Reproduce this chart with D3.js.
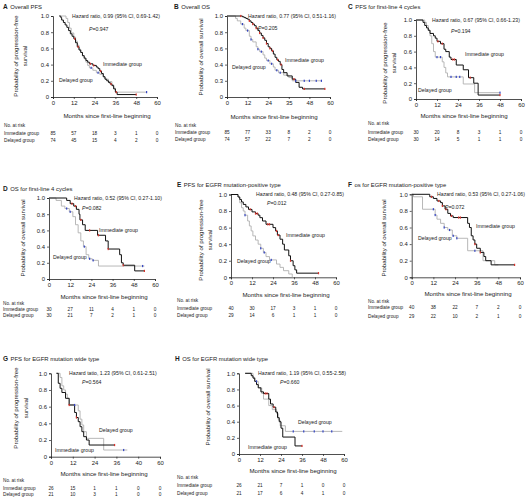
<!DOCTYPE html>
<html><head><meta charset="utf-8">
<script src="https://cdn.jsdelivr.net/npm/d3@7"></script>
<style>
body{margin:0;background:#fff}
svg{display:block}
text{font-family:'Liberation Sans',Arial,sans-serif;fill:#1a1a1a}
</style>
</head><body>
<svg id="chart" width="527" height="500"></svg>
<script>
// ---------------- DATA ----------------
const monthTicks = [0, 12, 24, 36, 48, 60];
const survTicks = [0, 0.2, 0.4, 0.6, 0.8, 1.0];
const xLabelsStd = ["0", "12", "24", "36", "48", "60"];
const xLabelsB = ["0", "12", "24", "35", "48", "60"];
const xLabelsG = ["0", "12", "24", "36", "40", "60"];
const yLabelsStd = ["0", "0.2", "0.4", "0.6", "0.8", "1.0"];
const yLabelsB = ["0", "0.3", "0.4", "0.6", "0.8", "1.0"];

const panelLetters = ["A","B","C","D","E","F","G","H"];
const panelTitles = ["Overall PFS","Overall OS","PFS for first-line 4 cycles","OS for first-line 4 cycles",
  "PFS for EGFR mutation-positive type","os for EGFR mutation-positive type","PFS for EGFR mutation wide type","OS for EGFR mutation wide type"];
const hazardTexts = ["Hazard ratio, 0.99 (95% CI, 0.69-1.42)","Hazard ratio, 0.77 (95% CI, 0.51-1.16)",
  "Hazard ratio, 0.67 (95% CI, 0.66-1.23)","Hazard ratio, 0.52 (95% CI, 0.27-1.10)",
  "Hazard ratio, 0.48 (95% CI, 0.27-0.85)","Hazard ratio, 0.53 (95% CI, 0.27-1.06)",
  "Hazard tatio, 1.23 (95% CI, 0.61-2.51)","Hazard ratio, 1.19 (95% CI, 0.55-2.58)"];
const pTexts = ["P=0.947","P=0.205","P=0.194","P=0.082","P=0.012","P=0.072","P=0.564","P=0.660"];
const yTitlePFS = ["Probability of progression-free","survival"];
const yTitleOS = ["Probability of overall survival"];
const xTitle = "Months since first-line beginning";
const riskHeader = "No. at risk";
const immLabel = "Immediate group";
const delLabel = "Delayed group";
const immRowLabels = ["Immediate group","Immediate group","Immediate group","Immediate group","Immediate group","Immediate group","Immediat group","Immediate group"];

// Kaplan-Meier step curves: [month, survival from that month on]
const aImm = [[3.5,1],[4.5,0.98],[5,0.95],[6,0.92],[7,0.89],[8,0.86],[9,0.82],[10,0.78],[11,0.75],[12,0.72],[13,0.67],[14,0.62],[15,0.58],[16,0.55],[17,0.51],[18,0.48],[19,0.45],[20,0.43],[21,0.41],[23,0.39],[25,0.37],[26,0.35],[27,0.32],[28,0.29],[29,0.25],[30,0.22],[31,0.2],[32,0.18],[33,0.16],[34,0.14],[35,0.1],[36,0.06],[37,0.03],[48,0.03]];
const aDel = [[4.5,1],[7.5,0.97],[8.5,0.92],[9.5,0.85],[10.5,0.79],[12,0.74],[13,0.69],[14,0.64],[15,0.59],[16,0.55],[17,0.51],[18,0.47],[19,0.43],[20,0.39],[21,0.36],[23,0.33],[25,0.3],[27,0.28],[29,0.25],[30,0.22],[32,0.19],[34,0.15],[35,0.11],[36,0.06],[54,0.06]];
const bImm = [[0,1],[9,0.99],[10,0.98],[11,0.97],[12,0.96],[13,0.94],[14,0.92],[15,0.9],[16,0.88],[17,0.85],[18,0.82],[19,0.79],[20,0.76],[21,0.73],[22,0.7],[23,0.66],[24,0.62],[25,0.6],[26,0.57],[27,0.53],[28,0.49],[29,0.46],[30,0.44],[31,0.4],[32,0.34],[33,0.3],[35,0.26],[38,0.22],[40,0.18],[42,0.12],[44,0.1],[57,0.1]];
const bDel = [[0,1],[5,0.97],[6,0.94],[8,0.9],[10,0.85],[11,0.82],[13,0.75],[14,0.71],[15,0.68],[17,0.62],[18,0.59],[19,0.56],[21,0.52],[22,0.48],[23,0.45],[25,0.41],[27,0.37],[28,0.33],[30,0.3],[33,0.27],[36,0.24],[38,0.2],[55,0.2]];
const cImm = [[0,1],[4,0.97],[5,0.93],[6,0.9],[7,0.87],[8,0.83],[10,0.8],[11,0.77],[12,0.73],[14,0.7],[16,0.63],[17,0.6],[19,0.53],[20,0.5],[23,0.43],[27,0.37],[30,0.27],[33,0.2],[35.5,0.05],[48,0.05]];
const cDel = [[0,1],[5,0.97],[6,0.93],[7,0.87],[8,0.8],[9,0.7],[10,0.6],[11,0.53],[15,0.47],[16,0.4],[17,0.33],[18,0.28],[27,0.19],[33.5,0.08],[48,0.08]];
const dImm = [[0,1],[10,0.97],[12,0.93],[14,0.9],[15.5,0.86],[17,0.8],[17.5,0.73],[19,0.67],[20.5,0.6],[27.5,0.54],[32,0.47],[33.5,0.37],[40,0.3],[41,0.2],[42,0.17],[48.5,0.1],[54,0.1]];
const dDel = [[0,1],[4,0.97],[7,0.9],[9,0.87],[11.5,0.83],[13.5,0.77],[15,0.67],[16.5,0.57],[18,0.47],[19.5,0.4],[21,0.3],[22.5,0.25],[24.5,0.23],[28,0.16],[54,0.16]];
const eImm = [[0,1],[4,0.97],[5,0.94],[6,0.91],[7,0.88],[8.5,0.85],[10,0.82],[12,0.79],[14,0.77],[15.5,0.75],[16.5,0.72],[18,0.68],[20,0.64],[24,0.6],[25.5,0.56],[26.5,0.51],[28,0.46],[29.5,0.4],[30.5,0.33],[33,0.26],[34,0.2],[35.5,0.14],[36.5,0.09],[37.5,0.05],[50,0.05]];
const eDel = [[0,1],[4,0.97],[5,0.9],[6,0.84],[7,0.8],[8,0.75],[9.5,0.68],[10.5,0.62],[11.5,0.56],[12.5,0.5],[14,0.45],[15.5,0.4],[17,0.35],[18.5,0.3],[20,0.25],[22,0.21],[26,0.16],[28,0.12],[30,0.08],[33,0.04],[35,0]];
const fImm = [[0,1],[10,0.97],[12,0.95],[14,0.92],[16,0.9],[17,0.86],[18.5,0.82],[20,0.77],[21.5,0.74],[23,0.72],[31,0.65],[32,0.6],[33,0.5],[34,0.45],[35,0.4],[36,0.35],[38,0.3],[40,0.25],[41,0.2],[44,0.15],[57,0.15]];
const fDel = [[0,1],[1,0.97],[6,0.82],[13,0.75],[14,0.7],[16,0.65],[18,0.6],[20,0.57],[22.5,0.5],[25,0.47],[31,0.32],[39.5,0.2],[46,0.15],[48,0.15]];
const gImm = [[3,1],[4,0.88],[5,0.82],[6,0.77],[8,0.7],[10,0.62],[13,0.53],[14,0.47],[15,0.42],[16,0.36],[17,0.3],[18,0.24],[19.5,0.2],[21,0.14],[35,0.14]];
const gDel = [[3,1],[5,0.95],[6,0.85],[7,0.8],[8,0.75],[9,0.7],[10,0.62],[15,0.55],[16,0.45],[17,0.38],[18,0.3],[19.5,0.22],[29,0.08],[42,0.08]];
const hImm = [[3.5,1],[7,0.97],[8,0.94],[9,0.9],[10,0.86],[11,0.82],[12.5,0.77],[14,0.75],[17,0.68],[18,0.62],[19.5,0.58],[21,0.52],[22,0.45],[23,0.4],[24,0.32],[25,0.21],[32,0.1],[36,0.1]];
const hDel = [[3.5,1],[8,0.95],[9,0.9],[11,0.82],[13,0.75],[14,0.68],[17,0.6],[19,0.55],[21.5,0.5],[22.5,0.42],[23.5,0.35],[26.5,0.28],[59,0.28]];

// censored observation times (months)
const aImmCens = [12.5,14.5,21.5,23.5,27.5,33.5,36.5,48];
const aDelCens = [22,26,54];
const bImmCens = [8,13,15,17,19,21,23,25,26.5,29.5,31.5,39,45,57];
const bDelCens = [9,12,14,18,20,24,26,29,31,40,45,48,52,55];
const cImmCens = [12.5,15,21,22,31,48];
const cDelCens = [12,14,20,23,25,48];
const dImmCens = [13,15,18,23,28,33.5,42,54];
const dDelCens = [10,12,20,23,25,53];
const eImmCens = [11,14,15,21,22,26,27,34,50];
const eDelCens = [8,17,19,23];
const fImmCens = [11,15,17,19,22,26,27,35,38,57];
const fDelCens = [12,13,18,21,23,25,35];
const gImmCens = [10,14,35];
const gDelCens = [13,40];
const hImmCens = [15,16,20,36];
const hDelCens = [10,31,37,43,48,53];

// numbers at risk at 0,12,24,36,48,60 months
const riskImm = [[85,57,18,3,1,0],[85,77,33,8,2,0],[30,20,8,3,1,0],[30,27,11,4,1,0],[40,30,17,3,1,0],[40,38,22,7,2,0],[26,15,1,1,0,0],[26,21,7,1,0,0]];
const riskDel = [[74,45,15,4,2,0],[74,57,22,7,2,0],[30,14,5,1,1,0],[30,21,7,2,1,0],[29,14,6,1,1,0],[29,22,10,2,1,0],[21,10,3,1,0,0],[21,17,6,4,1,0]];

const immCurves = [aImm,bImm,cImm,dImm,eImm,fImm,gImm,hImm];
const delCurves = [aDel,bDel,cDel,dDel,eDel,fDel,gDel,hDel];
const immCens = [aImmCens,bImmCens,cImmCens,dImmCens,eImmCens,fImmCens,gImmCens,hImmCens];
const delCens = [aDelCens,bDelCens,cDelCens,dDelCens,eDelCens,fDelCens,gDelCens,hDelCens];
const xLabelSets = [xLabelsStd,xLabelsB,xLabelsStd,xLabelsStd,xLabelsStd,xLabelsStd,xLabelsG,xLabelsStd];
const yLabelSets = [yLabelsStd,yLabelsB,yLabelsStd,yLabelsStd,yLabelsStd,yLabelsStd,yLabelsStd,yLabelsStd];
const yTitleSets = [yTitlePFS,yTitleOS,yTitlePFS,yTitleOS,yTitlePFS,yTitleOS,yTitlePFS,yTitleOS];

// ---------------- LAYOUT ----------------
const layout = [
 {L:53,R:157,T:16,B:97, title:[3,9], hr:[72,18], p:[89,31], imm:[103,66], del:[59,82], yt:{xs:[15,24],cy:56}, xt:{cx:107,y:118}, risk:{x:4,ys:[127,134.5,142]}},
 {L:227,R:330,T:16,B:97, title:[174,9], hr:[248,18], p:[258,30], imm:[285,62], del:[232,69], yt:{xs:[200],cy:57}, xt:{cx:274,y:119}, risk:{x:175,ys:[127,134,141]}},
 {L:416,R:521,T:20,B:99, title:[348,9], hr:[432,22], p:[451,33], imm:[465,56], del:[418,92], yt:{xs:[384,393],cy:63}, xt:{cx:464,y:118}, risk:{x:368,ys:[125,134,141]}},
 {L:49,R:155,T:198,B:279, title:[3,191], hr:[74,200], p:[82,210], imm:[99,232], del:[53,259], yt:{xs:[22],cy:238}, xt:{cx:104,y:299}, risk:{x:3,ys:[305,311,316.5]}},
 {L:231,R:336,T:194.5,B:277.3, title:[177,187], hr:[256,196], p:[267,205], imm:[286,237], del:[237,263], yt:{xs:[200,209],cy:240}, xt:{cx:286,y:297}, risk:{x:177,ys:[302,309.5,317]}},
 {L:411.7,R:520,T:194.3,B:277.3, title:[348,187], hr:[437,196], p:[445,209], imm:[476,228], del:[418,240], yt:{xs:[383],cy:238}, xt:{cx:468,y:295.5}, risk:{x:368,ys:[303,309,318]}},
 {L:51,R:160,T:373.3,B:456.7, title:[3,361], hr:[69,375], p:[82,384], imm:[55,452], del:[99,432], yt:{xs:[15,25],cy:408}, xt:{cx:104,y:476}, risk:{x:3,ys:[482,489.5,496]}},
 {L:239,R:344,T:373.3,B:454, title:[175,361], hr:[258,375], p:[280,384], imm:[248,449], del:[298,424], yt:{xs:[207],cy:407}, xt:{cx:293,y:473}, risk:{x:177,ys:[479,487,495]}}
];

const svg = d3.select("#chart");
const immColor = "#111", delColor = "#b0b0b0", immCensColor = "#d8332b", delCensColor = "#3344c4";

function survAt(curve, t){
  let s = curve[0][1];
  for (const [ti, si] of curve){ if (ti <= t) s = si; else break; }
  return s;
}

layout.forEach((lay, i) => {
  const g = svg.append("g");
  const x = d3.scaleLinear().domain([0,60]).range([lay.L, lay.R]);
  const y = d3.scaleLinear().domain([0,1]).range([lay.B, lay.T]);

  // title
  const t = g.append("text").attr("x", lay.title[0]).attr("y", lay.title[1]).style("font-size","5.9px");
  t.append("tspan").text(panelLetters[i]).style("font-weight","bold").style("font-size","6.5px");
  t.append("tspan").attr("dx", 2.5).text(panelTitles[i]);

  // axes
  const xa = g.append("g").attr("transform", `translate(0,${lay.B})`)
    .call(d3.axisBottom(x).tickValues(monthTicks).tickSize(2).tickPadding(2)
      .tickFormat((d, k) => xLabelSets[i][k]));
  const ya = g.append("g").attr("transform", `translate(${lay.L},0)`)
    .call(d3.axisLeft(y).tickValues(survTicks).tickSize(2).tickPadding(2)
      .tickFormat((d, k) => yLabelSets[i][k]));
  [xa, ya].forEach(a => {
    a.select(".domain").attr("stroke","#222").attr("stroke-width",0.8);
    a.selectAll(".tick line").attr("stroke","#222").attr("stroke-width",0.7);
    a.selectAll("text").style("font-size","5.9px").attr("fill","#1a1a1a")
      .style("font-family","'Liberation Sans',Arial,sans-serif");
  });

  // curves
  const line = d3.line().x(d => x(d[0])).y(d => y(d[1])).curve(d3.curveStepAfter);
  g.append("path").datum(delCurves[i]).attr("d", line).attr("fill","none")
    .attr("stroke", delColor).attr("stroke-width", 0.9);
  g.append("path").datum(immCurves[i]).attr("d", line).attr("fill","none")
    .attr("stroke", immColor).attr("stroke-width", 1.0);

  // censor marks
  g.selectAll(".cd").data(delCens[i]).join("rect")
    .attr("x", d => x(d) - 0.6).attr("y", d => y(survAt(delCurves[i], d)) - 1.1)
    .attr("width", 1.2).attr("height", 2.2).attr("fill", delCensColor);
  g.selectAll(".ci").data(immCens[i]).join("rect")
    .attr("x", d => x(d) - 0.6).attr("y", d => y(survAt(immCurves[i], d)) - 1.1)
    .attr("width", 1.2).attr("height", 2.2).attr("fill", immCensColor);

  // annotations
  g.append("text").attr("x", lay.hr[0]).attr("y", lay.hr[1]).style("font-size","5.2px").text(hazardTexts[i]);
  g.append("text").attr("x", lay.p[0]).attr("y", lay.p[1]).style("font-size","5.2px")
    .html(`<tspan font-style="italic">P</tspan>${pTexts[i].slice(1)}`);
  g.append("text").attr("x", lay.imm[0]).attr("y", lay.imm[1]).style("font-size","5.2px").text(immLabel);
  g.append("text").attr("x", lay.del[0]).attr("y", lay.del[1]).style("font-size","5.2px").text(delLabel);

  // y title
  yTitleSets[i].forEach((txt, k) => {
    g.append("text").attr("transform", `translate(${lay.yt.xs[k]},${lay.yt.cy}) rotate(-90)`)
      .attr("text-anchor","middle").attr("dominant-baseline","central")
      .style("font-size","6.1px").text(txt);
  });
  // x title
  g.append("text").attr("x", lay.xt.cx).attr("y", lay.xt.y).attr("text-anchor","middle")
    .style("font-size","6.1px").text(xTitle);

  // risk table
  g.append("text").attr("x", lay.risk.x).attr("y", lay.risk.ys[0]).style("font-size","4.7px").text(riskHeader);
  g.append("text").attr("x", lay.risk.x).attr("y", lay.risk.ys[1]).style("font-size","4.7px").text(immRowLabels[i]);
  g.append("text").attr("x", lay.risk.x).attr("y", lay.risk.ys[2]).style("font-size","4.7px").text(delLabel);
  g.selectAll(".ri").data(riskImm[i]).join("text")
    .attr("x", (d, k) => x(monthTicks[k])).attr("y", lay.risk.ys[1]).attr("text-anchor","middle")
    .style("font-size","4.7px").text(d => d);
  g.selectAll(".rd").data(riskDel[i]).join("text")
    .attr("x", (d, k) => x(monthTicks[k])).attr("y", lay.risk.ys[2]).attr("text-anchor","middle")
    .style("font-size","4.7px").text(d => d);
});
</script>
</body></html>
